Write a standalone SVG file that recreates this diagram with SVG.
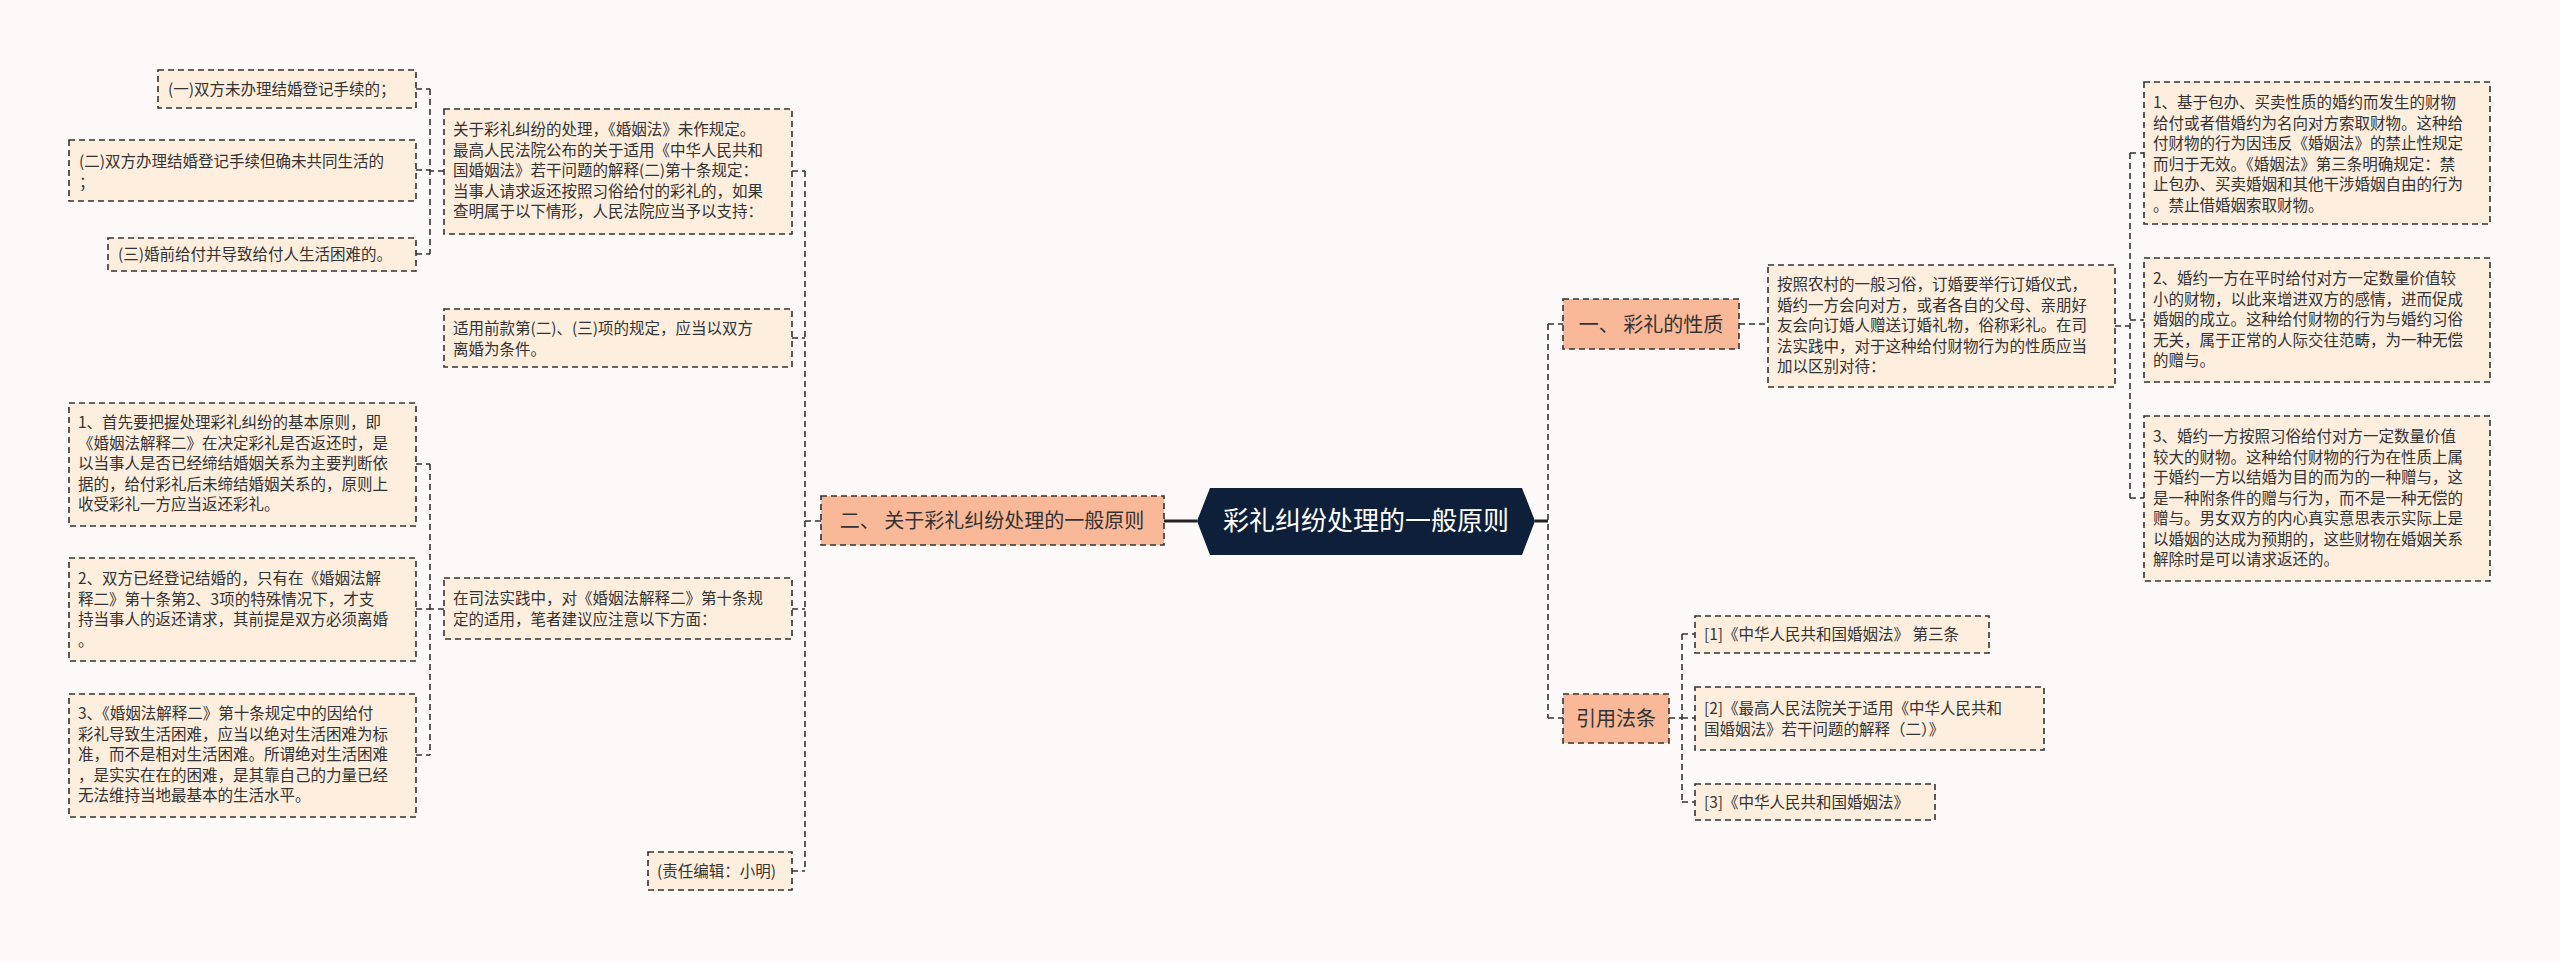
<svg xmlns="http://www.w3.org/2000/svg" width="2560" height="962" viewBox="0 0 2560 962">
<style>
text{font-family:"Noto Sans CJK SC","Noto Sans",sans-serif;fill:#333;}
.t{font-size:15.5px;}
.box{fill:#fdeede;stroke:#333;stroke-width:1.6;stroke-dasharray:6 4;}
.br{fill:#f9b898;stroke:#333;stroke-width:1.6;stroke-dasharray:6 4;}
.bt{font-size:20px;}
.c{fill:none;stroke:#333;stroke-width:1.6;stroke-dasharray:6 4;}
.s{fill:none;stroke:#222;stroke-width:3;}
</style>
<rect width="2560" height="962" fill="#fdfaf9"/>
<g id="connectors">
<path class="s" d="M1197 521H1164M1535 521H1548"/>
<path class="c" d="M821 521H805M805 171V871M792 171H805M792 338H805M792 609H805M792 871H805"/>
<path class="c" d="M444 171H430M430 89V254M416 89H430M416 170H430M416 254H430"/>
<path class="c" d="M444 609H430M430 464V755M416 464H430M416 609H430M416 755H430"/>
<path class="c" d="M1548 324V718M1548 324H1563M1548 718H1563"/>
<path class="c" d="M1739 324H1768M2115 326H2130M2130 153V498M2130 153H2144M2130 320H2144M2130 498H2144"/>
<path class="c" d="M1669 718H1682M1682 634V802M1682 634H1695M1682 718H1695M1682 802H1695"/>
</g>
<g id="center"><polygon points="1197,521 1210,488 1522,488 1535,521 1522,555 1210,555" fill="#0e2039"/><text x="1366" y="530" font-size="26" text-anchor="middle" style="fill:#fff">彩礼纠纷处理的一般原则</text></g>
<g id="b2"><rect class="br" x="821" y="496" width="343" height="49"/><text class="bt" x="992" y="528" text-anchor="middle">二、 关于彩礼纠纷处理的一般原则</text></g>
<g id="n1"><rect class="box" x="158" y="70" width="258" height="38"/><text class="t" x="168" y="95">(一)双方未办理结婚登记手续的；</text></g>
<g id="n2"><rect class="box" x="69" y="140" width="347" height="61"/><text class="t" x="79" y="167">(二)双方办理结婚登记手续但确未共同生活的<tspan x="79" dy="20.5">；</tspan></text></g>
<g id="n3"><rect class="box" x="108" y="238" width="308" height="33"/><text class="t" x="118" y="260">(三)婚前给付并导致给付人生活困难的。</text></g>
<g id="n4"><rect class="box" x="444" y="109" width="348" height="125"/><text class="t" x="453" y="135">关于彩礼纠纷的处理，《婚姻法》未作规定。<tspan x="453" dy="20.5">最高人民法院公布的关于适用《中华人民共和</tspan><tspan x="453" dy="20.5">国婚姻法》若干问题的解释(二)第十条规定：</tspan><tspan x="453" dy="20.5">当事人请求返还按照习俗给付的彩礼的，如果</tspan><tspan x="453" dy="20.5">查明属于以下情形，人民法院应当予以支持：</tspan></text></g>
<g id="n5"><rect class="box" x="444" y="309" width="348" height="58"/><text class="t" x="453" y="334">适用前款第(二)、(三)项的规定，应当以双方<tspan x="453" dy="20.5">离婚为条件。</tspan></text></g>
<g id="n6"><rect class="box" x="69" y="403" width="347" height="123"/><text class="t" x="78" y="428">1、首先要把握处理彩礼纠纷的基本原则，即<tspan x="78" dy="20.5">《婚姻法解释二》在决定彩礼是否返还时，是</tspan><tspan x="78" dy="20.5">以当事人是否已经缔结婚姻关系为主要判断依</tspan><tspan x="78" dy="20.5">据的，给付彩礼后未缔结婚姻关系的，原则上</tspan><tspan x="78" dy="20.5">收受彩礼一方应当返还彩礼。</tspan></text></g>
<g id="n7"><rect class="box" x="69" y="558" width="347" height="103"/><text class="t" x="78" y="584">2、双方已经登记结婚的，只有在《婚姻法解<tspan x="78" dy="20.5">释二》第十条第2、3项的特殊情况下，才支</tspan><tspan x="78" dy="20.5">持当事人的返还请求，其前提是双方必须离婚</tspan><tspan x="78" dy="20.5">。</tspan></text></g>
<g id="n8"><rect class="box" x="69" y="694" width="347" height="123"/><text class="t" x="78" y="719">3、《婚姻法解释二》第十条规定中的因给付<tspan x="78" dy="20.5">彩礼导致生活困难，应当以绝对生活困难为标</tspan><tspan x="78" dy="20.5">准，而不是相对生活困难。所谓绝对生活困难</tspan><tspan x="78" dy="20.5">，是实实在在的困难，是其靠自己的力量已经</tspan><tspan x="78" dy="20.5">无法维持当地最基本的生活水平。</tspan></text></g>
<g id="n9"><rect class="box" x="444" y="578" width="348" height="61"/><text class="t" x="453" y="604">在司法实践中，对《婚姻法解释二》第十条规<tspan x="453" dy="20.5">定的适用，笔者建议应注意以下方面：</tspan></text></g>
<g id="n10"><rect class="box" x="648" y="852" width="144" height="38"/><text class="t" x="657" y="877">(责任编辑：小明)</text></g>
<g id="b1"><rect class="br" x="1563" y="299" width="176" height="50"/><text class="bt" x="1651" y="332" text-anchor="middle">一、 彩礼的性质</text></g>
<g id="n11"><rect class="box" x="1768" y="265" width="347" height="122"/><text class="t" x="1777" y="290">按照农村的一般习俗，订婚要举行订婚仪式，<tspan x="1777" dy="20.5">婚约一方会向对方，或者各自的父母、亲朋好</tspan><tspan x="1777" dy="20.5">友会向订婚人赠送订婚礼物，俗称彩礼。在司</tspan><tspan x="1777" dy="20.5">法实践中，对于这种给付财物行为的性质应当</tspan><tspan x="1777" dy="20.5">加以区别对待：</tspan></text></g>
<g id="n12"><rect class="box" x="2144" y="82" width="346" height="142"/><text class="t" x="2153" y="108">1、基于包办、买卖性质的婚约而发生的财物<tspan x="2153" dy="20.5">给付或者借婚约为名向对方索取财物。这种给</tspan><tspan x="2153" dy="20.5">付财物的行为因违反《婚姻法》的禁止性规定</tspan><tspan x="2153" dy="20.5">而归于无效。《婚姻法》第三条明确规定：禁</tspan><tspan x="2153" dy="20.5">止包办、买卖婚姻和其他干涉婚姻自由的行为</tspan><tspan x="2153" dy="20.5">。禁止借婚姻索取财物。</tspan></text></g>
<g id="n13"><rect class="box" x="2144" y="258" width="346" height="124"/><text class="t" x="2153" y="284">2、婚约一方在平时给付对方一定数量价值较<tspan x="2153" dy="20.5">小的财物，以此来增进双方的感情，进而促成</tspan><tspan x="2153" dy="20.5">婚姻的成立。这种给付财物的行为与婚约习俗</tspan><tspan x="2153" dy="20.5">无关，属于正常的人际交往范畴，为一种无偿</tspan><tspan x="2153" dy="20.5">的赠与。</tspan></text></g>
<g id="n14"><rect class="box" x="2144" y="416" width="346" height="165"/><text class="t" x="2153" y="442">3、婚约一方按照习俗给付对方一定数量价值<tspan x="2153" dy="20.5">较大的财物。这种给付财物的行为在性质上属</tspan><tspan x="2153" dy="20.5">于婚约一方以结婚为目的而为的一种赠与，这</tspan><tspan x="2153" dy="20.5">是一种附条件的赠与行为，而不是一种无偿的</tspan><tspan x="2153" dy="20.5">赠与。男女双方的内心真实意思表示实际上是</tspan><tspan x="2153" dy="20.5">以婚姻的达成为预期的，这些财物在婚姻关系</tspan><tspan x="2153" dy="20.5">解除时是可以请求返还的。</tspan></text></g>
<g id="b3"><rect class="br" x="1563" y="694" width="106" height="49"/><text class="bt" x="1616" y="726" text-anchor="middle">引用法条</text></g>
<g id="n15"><rect class="box" x="1695" y="616" width="294" height="37"/><text class="t" x="1704" y="640">[1]《中华人民共和国婚姻法》 第三条</text></g>
<g id="n16"><rect class="box" x="1695" y="687" width="349" height="63"/><text class="t" x="1704" y="714">[2]《最高人民法院关于适用《中华人民共和<tspan x="1704" dy="20.5">国婚姻法》若干问题的解释（二）》</tspan></text></g>
<g id="n17"><rect class="box" x="1695" y="784" width="240" height="36"/><text class="t" x="1704" y="808">[3]《中华人民共和国婚姻法》</text></g>
</svg>
